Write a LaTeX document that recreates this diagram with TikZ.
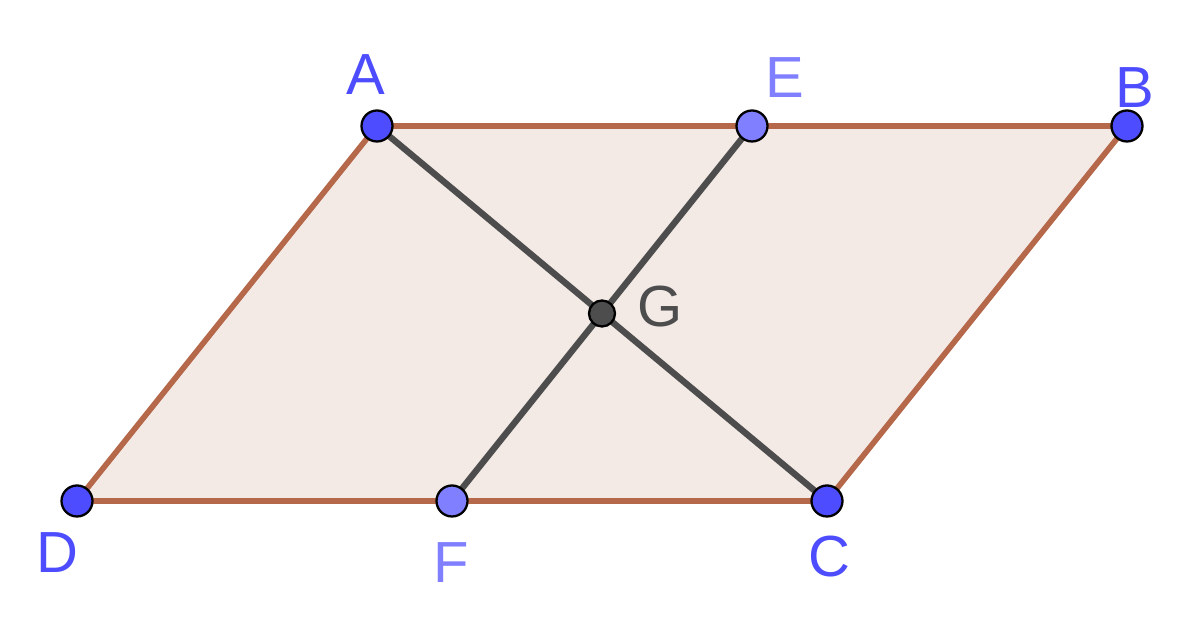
\documentclass[tikz,border=0pt]{standalone}
\usepackage{fontspec}
\setmainfont{Liberation Sans}
\usepackage{tikz}

\definecolor{edgebrown}{HTML}{B5694A}
\definecolor{fillbrown}{HTML}{F3EAE5}
\definecolor{ptblue}{HTML}{4D4DFF}
\definecolor{ptlight}{HTML}{7F7FFF}
\definecolor{segdark}{HTML}{4D4D4D}

\tikzset{
  pt/.style={circle,draw=black,line width=1.3pt,fill=ptblue,minimum size=0.62cm,inner sep=0pt},
  lbl/.style={font=\fontsize{33}{38}\selectfont,text=ptblue,inner sep=0pt}
}

\begin{document}
\begin{tikzpicture}[scale=1.0]
\useasboundingbox (0,0) rectangle (23.8,12.42);

\coordinate (a) at (7.54,9.9);
\coordinate (b) at (22.54,9.9);
\coordinate (c) at (16.54,2.4);
\coordinate (d) at (1.54,2.4);
\coordinate (e) at (15.04,9.9);
\coordinate (f) at (9.04,2.4);
\coordinate (g) at (12.04,6.15);

\fill[fillbrown] (a) -- (b) -- (c) -- (d) -- cycle;
\draw[edgebrown,line width=3.2pt] (a) -- (b) -- (c) -- (d) -- cycle;

\draw[segdark,line width=3.6pt] (a) -- (c);
\draw[segdark,line width=3.6pt] (e) -- (f);

\node[pt] (pa) at (a) {};
\node[pt] (pb) at (b) {};
\node[pt] (pc) at (c) {};
\node[pt] (pd) at (d) {};
\node[pt,fill=ptlight] (pe) at (e) {};
\node[pt,fill=ptlight] (pf) at (f) {};
\node[pt,fill=segdark,minimum size=0.52cm] (pg) at (g) {};

\node[lbl] (la) at (7.32,10.92) {A};
\node[lbl] (lb) at (22.7,10.66) {B};
\node[lbl] (lc) at (16.58,1.28) {C};
\node[lbl] (ld) at (1.14,1.36) {D};
\node[lbl,text=ptlight] (le) at (15.7,10.86) {E};
\node[lbl,text=ptlight] (lf) at (9.02,1.16) {F};
\node[lbl,text=segdark] (lg) at (13.2,6.28) {G};
\end{tikzpicture}
\end{document}
